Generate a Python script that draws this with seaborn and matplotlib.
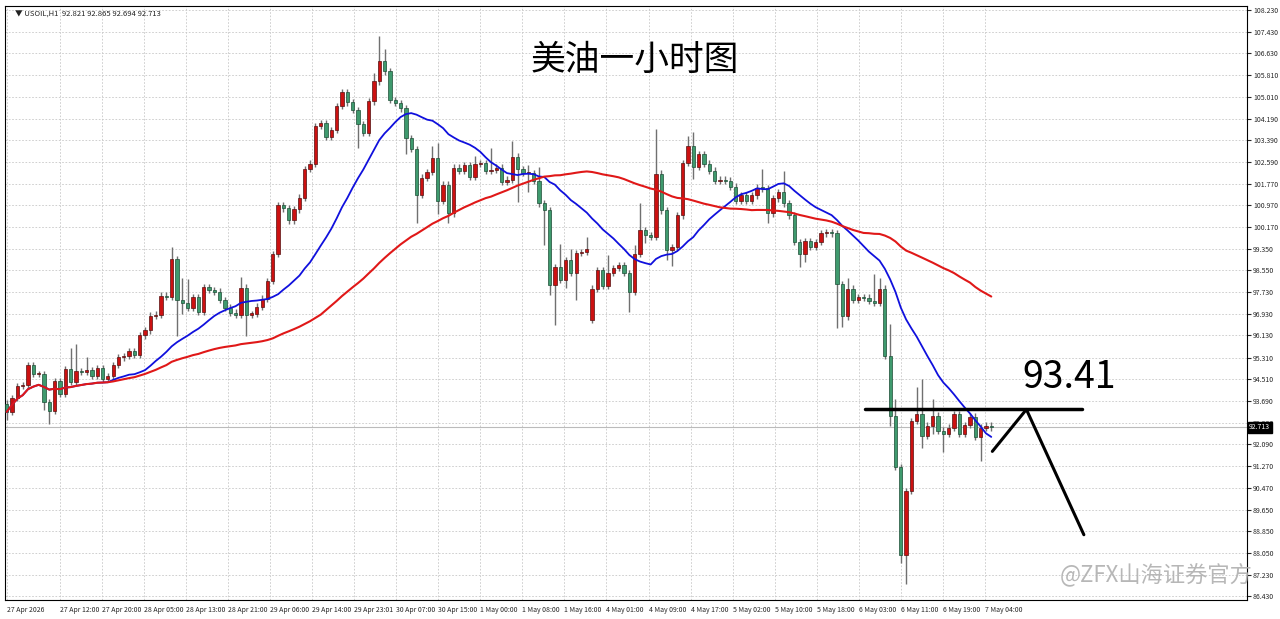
import numpy as np
import pandas as pd
import matplotlib
matplotlib.use("Agg")
import matplotlib.pyplot as plt
import seaborn as sns

sns.set_style("white")
plt.rcParams['font.family'] = ['Noto Sans CJK SC', 'DejaVu Sans']

# hourly closes (USOIL H1)
closes = [
    93.29, 93.81, 94.25, 94.29, 95.03, 94.70, 94.70, 93.66, 93.33, 94.44,
    93.96, 94.88, 94.40, 94.81, 94.78, 94.84, 94.62, 94.92, 94.51, 94.62,
    95.03, 95.32, 95.36, 95.54, 95.40, 96.13, 96.32, 96.87, 96.91, 97.61,
    97.57, 98.98, 97.46, 97.32, 97.17, 97.57, 97.02, 97.94, 97.83, 97.76,
    97.46, 97.17, 96.98, 96.91, 97.91, 96.91, 96.93, 97.20, 97.50, 98.16,
    99.16, 100.97, 100.86, 100.41, 100.82, 101.26, 102.33, 102.52, 103.92, 104.03,
    103.51, 103.77, 104.66, 105.17, 104.80, 104.51, 103.99, 103.66, 104.84, 105.58,
    106.32, 105.95, 104.88, 104.77, 104.58, 103.48, 103.07, 101.37, 102.00, 102.22,
    102.74, 101.15, 101.74, 100.67, 102.37, 102.26, 102.48, 102.04, 102.52, 102.55,
    102.26, 102.30, 102.37, 101.85, 101.93, 102.78, 102.33, 102.18, 102.18, 101.89,
    101.04, 100.78, 98.02, 98.68, 98.20, 98.94, 98.46, 99.20, 99.23, 99.34,
    97.87, 98.57, 97.98, 98.46, 98.64, 98.75, 98.46, 97.76, 99.16, 100.05,
    99.86, 99.79, 102.15, 100.78, 99.31, 99.42, 100.60, 102.55, 103.18, 102.41,
    102.89, 102.52, 102.26, 101.89, 101.93, 101.89, 101.67, 101.15, 101.34, 101.15,
    101.34, 101.63, 101.60, 100.67, 101.23, 101.45, 101.04, 100.60, 99.60, 99.16,
    99.64, 99.42, 99.60, 99.93, 99.97, 99.93, 98.05, 96.84, 97.87, 97.46,
    97.57, 97.54, 97.43, 97.35, 97.87, 95.36, 93.15, 91.23, 87.98, 90.34,
    92.96, 93.22, 92.41, 92.78, 93.15, 92.59, 92.48, 92.70, 93.22, 92.48,
    92.81, 93.11, 92.37, 92.70, 92.78, 92.713,
]
first_open = 93.60
gap_opens = {110: 96.72}  # weekend gap (4 May open)

d = 0.12
wick_up = (
    [d] * 12 + [0.8, 1.0, d, 0.5] + [d] * 15 + [0.45, d, 0.8, 0.9] + [d] * 9 + [0.4]
    + [d] * 24 + [0.3, 0.95, 0.45] + [d] * 8 + [0.45, 0.55] + [d] * 6 + [0.3, d, d, 0.8]
    + [d] * 3 + [0.6, d, d, 0.3, d, 0.5, d, d, 0.1, 0.87, d, 0.4, d, d, 0.45]
    + [d] * 3 + [0.66] + [d] * 4 + [0.35, 1.0, d, d, 1.65] + [d] * 5 + [0.37, 0.52]
    + [d] * 12 + [0.7] + [d] * 3 + [0.8] + [d] * 11 + [0.4] + [d] * 4 + [1.0, 0.4, d, 1.2, 0.6]
    + [d] * 3 + [1.0, 1.3, d, 0.6] + [d] * 11
)
wick_dn = (
    [0.3] + [d] * 6 + [0.3, 0.5] + [d] * 23 + [1.35, 0.4] + [d] * 11 + [0.8]
    + [d] * 20 + [0.9] + [d] * 8 + [0.6, d, 1.05, d, d, d, 0.5, d, 0.35] + [d] * 12
    + [1.25, d, 0.7, d, d, 1.3, 0.4, 1.5, d, 0.3, d, 1.0] + [d] * 9 + [0.74, d, d, 0.3]
    + [d] * 3 + [0.36, 0.6, d, d, d, 0.45] + [d] * 13 + [0.37] + [d] * 5 + [0.48, 0.3]
    + [d] * 5 + [1.65, 0.4] + [d] * 8 + [0.4, d, 0.3, 1.1, d, d, 0.48, d, 0.3, d, 0.7]
    + [d] * 6 + [0.9, d, d]
)

y_ticks = [108.230, 107.430, 106.630, 105.810, 105.010, 104.190, 103.390, 102.590,
           101.770, 100.970, 100.170, 99.350, 98.550, 97.730, 96.930, 96.130,
           95.310, 94.510, 93.690, 92.880, 92.090, 91.270, 90.470, 89.650,
           88.850, 88.050, 87.230, 86.430]
x_labels = ['27 Apr 2026', '27 Apr 12:00', '27 Apr 20:00', '28 Apr 05:00', '28 Apr 13:00',
            '28 Apr 21:00', '29 Apr 06:00', '29 Apr 14:00', '29 Apr 23:01', '30 Apr 07:00',
            '30 Apr 15:00', '1 May 00:00', '1 May 08:00', '1 May 16:00', '4 May 01:00',
            '4 May 09:00', '4 May 17:00', '5 May 02:00', '5 May 10:00', '5 May 18:00',
            '6 May 03:00', '6 May 11:00', '6 May 19:00', '7 May 04:00']

level = 93.41
# hand-drawn forecast zigzag (bar, price)
zig_x = [185.2, 191.6, 202.4]
zig_y = [91.82, 93.38, 88.72]

# build frame
n = len(closes)
df = pd.DataFrame({'close': closes})
df['bar'] = np.arange(n)
df['open'] = df['close'].shift(1).fillna(first_open)
for k, v in gap_opens.items():
    df.loc[k, 'open'] = v
df['high'] = df[['open', 'close']].max(axis=1) + np.array(wick_up[:n])
df['low'] = df[['open', 'close']].min(axis=1) - np.array(wick_dn[:n])
df['ma_fast'] = df['close'].rolling(20, min_periods=1).mean()
df['ma_slow'] = df['close'].rolling(60, min_periods=1).mean()

fig = plt.figure(figsize=(12.8, 6.19), dpi=100)
ax = fig.add_axes([0.004, 0.031, 0.970, 0.96])

up = df['close'] >= df['open']
ax.vlines(df['bar'], df['low'], df['high'], color='#707070', lw=1, zorder=2)
ax.bar(df['bar'][up], (df['close'] - df['open'])[up].clip(lower=0.04), bottom=df['open'][up],
       width=0.62, color='#cc1111', edgecolor='#551111', lw=0.5, zorder=3)
ax.bar(df['bar'][~up], (df['open'] - df['close'])[~up].clip(lower=0.04), bottom=df['close'][~up],
       width=0.62, color='#3f9a6e', edgecolor='#1d4d36', lw=0.5, zorder=3)

sns.lineplot(data=df, x='bar', y='ma_fast', color='#1010dd', lw=1.3, ax=ax, zorder=4)
sns.lineplot(data=df, x='bar', y='ma_slow', color='#e01818', lw=1.5, ax=ax, zorder=4)

# current price line
ax.axhline(closes[-1], color='#bbbbbb', lw=0.8, zorder=1)

# resistance level + forecast
ax.plot([161.3, 202.0], [level, level], color='black', lw=2.5, zorder=5)
ax.plot(zig_x, zig_y, color='black', lw=2.2, zorder=5)
ax.text(199.6, 94.55, f'{level:.2f}', fontsize=27, ha='center', va='center', color='black')

ax.text(118, 106.35, '美油一小时图', fontsize=25, ha='center', va='center', color='black')
ax.text(1.5, 108.05, '▼ USOIL,H1  92.821 92.865 92.694 92.713', fontsize=5.5, va='center',
        color='#222222')
ax.text(216, 87.2, '@ZFX山海证券官方', fontsize=16, ha='center', va='center',
        color='#b0b0b0', alpha=0.9, zorder=6)

ax.set_xlim(-0.3, 233)
ax.set_ylim(86.30, 108.40)
ax.yaxis.tick_right()
ax.set_yticks(y_ticks)
ax.set_yticklabels([f'{t:.3f}' for t in y_ticks], fontsize=5)
ax.set_xticks([0] + [10 + 7.9 * k for k in range(len(x_labels) - 1)])
ax.set_xticklabels(x_labels, fontsize=5, ha='left')
ax.tick_params(axis='both', length=3, pad=1.5)
ax.grid(True, color='#c8c8c8', ls=(0, (2, 2)), lw=0.6)
ax.set_xlabel('')
ax.set_ylabel('')
for s in ax.spines.values():
    s.set_color('black')
    s.set_linewidth(0.8)

ax.text(1.002, closes[-1], f'{closes[-1]:.3f}', transform=ax.get_yaxis_transform(),
        fontsize=5, color='white', va='center', ha='left',
        bbox=dict(facecolor='black', edgecolor='black', pad=1))

fig.savefig('out.png', dpi=100)
